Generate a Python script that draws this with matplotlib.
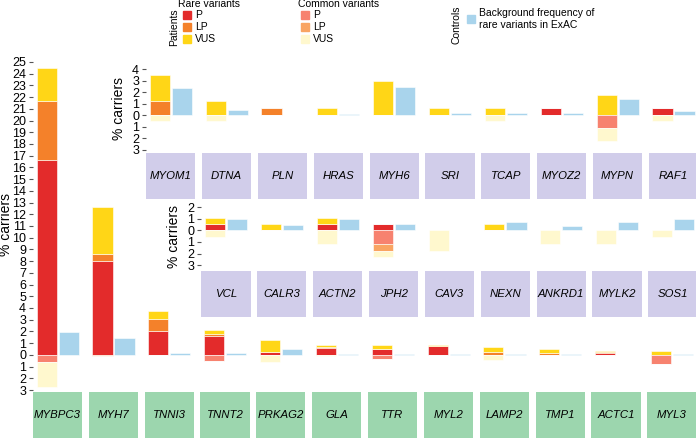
import numpy as np
import matplotlib
matplotlib.use("Agg")
import matplotlib.pyplot as plt
from matplotlib.patches import Rectangle

plt.rcParams['font.family'] = ['Liberation Sans', 'DejaVu Sans']

W, H = 696, 438

# colours
c_rare = ['#E32B2B', '#F4812A', '#FFD617']
c_common = ['#F7826F', '#F9A462', '#FFF8CE']
c_ctrl = '#A9D4EC'
c_green = '#9CD6AE'
c_lav = '#D1CDEA'

# main panel (cardiomyopathy core genes)
main_genes = ['MYBPC3', 'MYH7', 'TNNI3', 'TNNT2', 'PRKAG2', 'GLA', 'TTR',
              'MYL2', 'LAMP2', 'TMP1', 'ACTC1', 'MYL3']
main_rare_p = [16.6, 8.0, 2.0, 1.62, 0.28, 0.62, 0.48, 0.77, 0, 0, 0.15, 0]
main_rare_lp = [5.1, 0.65, 1.1, 0.17, 0, 0.06, 0, 0, 0.28, 0.15, 0.08, 0]
main_rare_vus = [2.8, 3.95, 0.65, 0.34, 1.0, 0.12, 0.32, 0.06, 0.37, 0.35, 0.1, 0.3]
main_comm_p = [0.65, 0, 0, 0.5, 0, 0, 0.35, 0, 0, 0, 0, 0.8]
main_comm_lp = [0, 0.1, 0, 0, 0, 0, 0, 0, 0, 0, 0, 0]
main_comm_vus = [2.1, 0, 0, 0, 0.63, 0.1, 0, 0, 0.43, 0, 0, 0]
main_ctrl = [1.95, 1.4, 0.2, 0.2, 0.5, 0.05, 0.05, 0.1, 0.1, 0.05, 0.03, 0.1]

# upper inset
p1_genes = ['MYOM1', 'DTNA', 'PLN', 'HRAS', 'MYH6', 'SRI', 'TCAP', 'MYOZ2',
            'MYPN', 'RAF1']
p1_rare_p = [0, 0, 0, 0, 0, 0, 0, 0.58, 0, 0.58]
p1_rare_lp = [1.19, 0, 0.58, 0, 0, 0, 0, 0, 0, 0]
p1_rare_vus = [2.29, 1.19, 0, 0.58, 2.96, 0.58, 0.58, 0, 1.77, 0]
p1_comm_p = [0, 0, 0, 0, 0, 0, 0, 0, 1.16, 0]
p1_comm_lp = [0, 0, 0, 0, 0, 0, 0, 0, 0, 0]
p1_comm_vus = [0.55, 0.55, 0, 0, 0, 0, 0.55, 0, 1.13, 0.55]
p1_ctrl = [2.38, 0.46, 0.03, 0.12, 2.46, 0.17, 0.17, 0.17, 1.42, 0.35]

# middle inset
p2_genes = ['VCL', 'CALR3', 'ACTN2', 'JPH2', 'CAV3', 'NEXN', 'ANKRD1',
            'MYLK2', 'SOS1']
p2_rare_p = [0.52, 0, 0.52, 0.52, 0, 0, 0, 0, 0]
p2_rare_lp = [0, 0, 0, 0, 0, 0, 0, 0, 0]
p2_rare_vus = [0.58, 0.52, 0.58, 0, 0, 0.52, 0, 0, 0]
p2_comm_p = [0, 0, 0, 1.22, 0, 0, 0, 0, 0]
p2_comm_lp = [0, 0, 0, 0.52, 0, 0, 0, 0, 0]
p2_comm_vus = [0.58, 0, 1.16, 0.58, 1.74, 0, 1.16, 1.16, 0.58]
p2_ctrl = [0.96, 0.43, 1.0, 0.58, 0.06, 0.7, 0.35, 0.7, 0.93]

COL = 55.85  # pixel width of one gene column

fig = plt.figure(figsize=(W / 100, H / 100), dpi=100)


def px_axes(x0, y0, x1, y1):
    return fig.add_axes([x0 / W, 1 - y1 / H, (x1 - x0) / W, (y1 - y0) / H])


def panel(genes, rp, rlp, rv, cp, clp, cv, ctrl, left, center0, top, bottom,
          ylim, yticks, strip_col, strip_bottom, ylab_x):
    n = len(genes)
    xlim = (-(center0 - left) / COL, (W - center0) / COL)
    ax = px_axes(left, top, W, bottom)
    x = np.arange(n)
    xp = x - 0.195
    xc = x + 0.2
    w = 0.36
    kw = dict(width=w, edgecolor='white', linewidth=0.4)
    base = np.zeros(n)
    for vals, col in zip([rp, rlp, rv], c_rare):
        v = np.array(vals)
        ax.bar(xp, v, bottom=base, color=col, **kw)
        base = base + v
    base = np.zeros(n)
    for vals, col in zip([cp, clp, cv], c_common):
        v = np.array(vals)
        ax.bar(xp, -v, bottom=base, color=col, **kw)
        base = base - v
    ax.bar(xc, ctrl, color=c_ctrl, **kw)
    ax.set_xlim(*xlim)
    ax.set_ylim(*ylim)
    ax.set_xticks([])
    ax.set_yticks(yticks)
    ax.set_yticklabels([str(abs(t)) for t in yticks], fontsize=9)
    ax.tick_params(axis='y', length=3, width=0.8, color='#555555', pad=2)
    for s in ax.spines.values():
        s.set_visible(False)
    ax.patch.set_alpha(0)
    fig.text(ylab_x / W, 1 - ((top + bottom) / 2) / H, '% carriers',
             rotation=90, ha='center', va='center', fontsize=10)

    sx = px_axes(left, bottom, W, strip_bottom)
    sx.set_xlim(*xlim)
    sx.set_ylim(0, 1)
    sx.axis('off')
    for i, g in enumerate(genes):
        sx.add_patch(Rectangle((i - 0.44, 0), 0.88, 1, color=strip_col, lw=0))
        sx.text(i, 0.5, g, ha='center', va='center', fontsize=8.2,
                style='italic')
    return ax


# main panel
panel(main_genes, main_rare_p, main_rare_lp, main_rare_vus, main_comm_p,
      main_comm_lp, main_comm_vus, main_ctrl, left=33, center0=57.5,
      top=56, bottom=392, ylim=(-3.17, 25.51), yticks=list(range(-3, 26)),
      strip_col=c_green, strip_bottom=438, ylab_x=6)

# upper inset
panel(p1_genes, p1_rare_p, p1_rare_lp, p1_rare_vus, p1_comm_p, p1_comm_lp,
      p1_comm_vus, p1_ctrl, left=146, center0=57.5 + 2 * COL + 1.5,
      top=64, bottom=153, ylim=(-3.3, 4.44), yticks=list(range(-3, 5)),
      strip_col=c_lav, strip_bottom=199, ylab_x=119)

# middle inset
panel(p2_genes, p2_rare_p, p2_rare_lp, p2_rare_vus, p2_comm_p, p2_comm_lp,
      p2_comm_vus, p2_ctrl, left=201, center0=57.5 + 3 * COL + 1,
      top=201, bottom=271, ylim=(-3.5, 2.52), yticks=list(range(-3, 3)),
      strip_col=c_lav, strip_bottom=317, ylab_x=174)


# legend drawn by hand in pixel coordinates
def fx(x):
    return x / W


def fy(y):
    return 1 - y / H


def key(x, y, col, label, w=8, h=8):
    fig.patches.append(Rectangle((fx(x), fy(y + h)), w / W, h / H, color=col,
                                 transform=fig.transFigure, figure=fig))
    fig.text(fx(x + w + 4), fy(y + h / 2), label, ha='left', va='center',
             fontsize=7.5)


fig.text(fx(178), fy(4), 'Rare variants', ha='left', va='center',
         fontsize=7.5)
fig.text(fx(174), fy(27), 'Patients', rotation=90, ha='center', va='center',
         fontsize=7.5)
for lab, col, y in zip(['P', 'LP', 'VUS'], c_rare, [11, 23, 35]):
    key(183, y, col, lab)

fig.text(fx(298), fy(4), 'Common variants', ha='left', va='center',
         fontsize=7.5)
for lab, col, y in zip(['P', 'LP', 'VUS'], c_common, [11, 23, 35]):
    key(301, y, col, lab)

fig.text(fx(456), fy(25), 'Controls', rotation=90, ha='center', va='center',
         fontsize=7.5)
key(467, 15, c_ctrl, 'Background frequency of\nrare variants in ExAC')

fig.savefig('out.png', dpi=100)
